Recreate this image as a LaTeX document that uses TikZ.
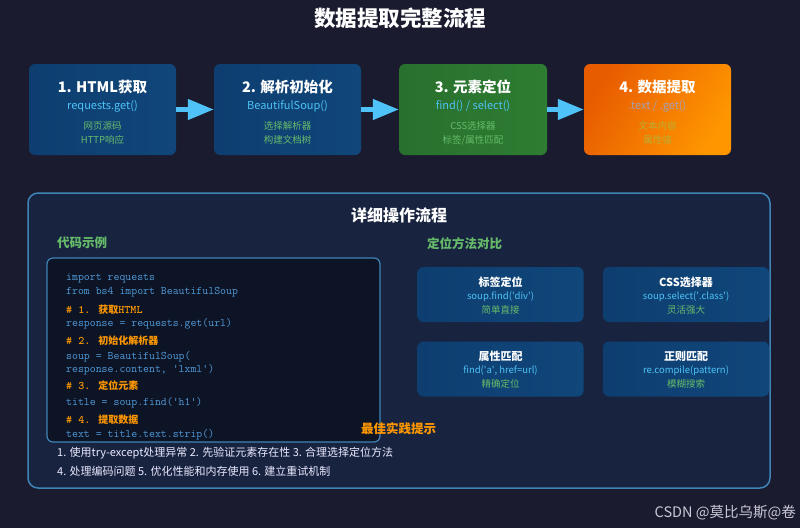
\documentclass[tikz,border=0pt]{standalone}
\usepackage{fontspec}
\setmainfont{Noto Sans CJK SC}
\newfontfamily\cjkfont{Noto Sans CJK SC}
\usetikzlibrary{arrows.meta}
\definecolor{nen}{RGB}{26,27,46}
\definecolor{nenpanel}{RGB}{24,35,64}
\definecolor{vien}{RGB}{62,132,182}
\definecolor{xanhkhung}{RGB}{14,62,112}
\definecolor{xanhkhungB}{RGB}{16,70,122}
\definecolor{lacay}{RGB}{40,112,46}
\definecolor{lacayB}{RGB}{46,124,50}
\definecolor{camA}{RGB}{232,92,0}
\definecolor{camB}{RGB}{255,150,0}
\definecolor{xanhnhat}{RGB}{79,195,247}
\definecolor{xanhla}{RGB}{102,187,106}
\definecolor{nenma}{RGB}{12,20,38}
\definecolor{chuma}{RGB}{82,154,216}
\definecolor{cam}{RGB}{255,152,0}
\definecolor{xam}{RGB}{200,200,214}
\definecolor{timnhat}{RGB}{168,160,178}
\definecolor{vangnhat}{RGB}{186,176,52}
\newcommand{\zh}[1]{{\cjkfont\fontsize{10}{13}\selectfont #1}}
\begin{document}
\begin{tikzpicture}[x=1pt,y=-1pt,
  stepbox/.style={rounded corners=6pt,minimum width=147pt,minimum height=91pt,inner sep=0pt},
  steptitle/.style={text=white,inner sep=0pt,font=\fontsize{14.5}{17}\selectfont\bfseries},
  stepsub/.style={text=xanhnhat,inner sep=0pt,font=\fontsize{11}{13}\selectfont},
  stepnote/.style={text=xanhla,inner sep=0pt,align=center,font=\fontsize{9.5}{14}\selectfont},
  flowarrow/.style={draw=xanhnhat,line width=4.5pt,-{Triangle[length=26pt,width=20pt]}},
  codeline/.style={anchor=west,inner sep=0pt,text=chuma,text height=7pt,text depth=2pt,font=\ttfamily\fontsize{11.5}{13}\selectfont},
  commentline/.style={codeline,text=cam,font=\ttfamily\bfseries\fontsize{11.5}{13}\selectfont},
  methodbox/.style={rounded corners=6pt,minimum width=166pt,minimum height=55pt,inner sep=0pt,left color=xanhkhung,right color=xanhkhungB},
  methodtitle/.style={text=white,inner sep=0pt,font=\fontsize{11}{13}\selectfont\bfseries},
  methodcode/.style={text=xanhnhat,inner sep=0pt,font=\fontsize{9.5}{11}\selectfont},
  methodnote/.style={text=xanhla,inner sep=0pt,font=\fontsize{9.5}{11}\selectfont}]
%Nen
\fill[nen] (0,0) rectangle (800,528);
%Tieu de
\node[text=white,font=\fontsize{21.5}{25}\selectfont\bfseries] (tieude) at (400,18) {数据提取完整流程};
%Khung 1
\node[stepbox,left color=xanhkhung,right color=xanhkhungB] (b1) at (102.5,109.5) {};
\node[steptitle] (b1t) at (102.5,87) {1. HTML获取};
\node[stepsub] (b1s) at (102.5,106) {requests.get()};
\node[stepnote] (b1n) at (102.5,133) {网页源码\\HTTP响应};
%Khung 2
\node[stepbox,left color=xanhkhung,right color=xanhkhungB] (b2) at (287.5,109.5) {};
\node[steptitle] (b2t) at (287.5,87) {2. 解析初始化};
\node[stepsub] (b2s) at (287.5,106) {BeautifulSoup()};
\node[stepnote] (b2n) at (287.5,133) {选择解析器\\构建文档树};
%Khung 3
\node[stepbox,minimum width=148pt,left color=lacay,right color=lacayB] (b3) at (473,109.5) {};
\node[steptitle] (b3t) at (473,87) {3. 元素定位};
\node[stepsub] (b3s) at (473,106) {find() / select()};
\node[stepnote] (b3n) at (473,133) {CSS选择器\\标签/属性匹配};
%Khung 4
\node[stepbox,left color=camA,right color=camB,shading angle=60] (b4) at (657.5,109.5) {};
\node[steptitle] (b4t) at (657.5,87) {4. 数据提取};
\node[stepsub,text=timnhat] (b4s) at (657.5,106) {.text / .get()};
\node[stepnote,text=vangnhat] (b4n) at (657.5,133) {文本内容\\属性值};
%Mui ten 1,2,3
\draw[flowarrow] (b1) -- (b2);
\draw[flowarrow] (b2) -- (b3);
\draw[flowarrow] (b3) -- (b4);
%Khung chi tiet
\node[draw=vien,line width=1.5pt,fill=nenpanel,rounded corners=10pt,minimum width=742pt,minimum height=295pt] (chitiet) at (399,340.5) {};
\node[text=white,font=\fontsize{16}{19}\selectfont\bfseries] (cttieude) at (399,215) {详细操作流程};
\node[anchor=west,text=xanhla,inner sep=0pt,font=\fontsize{12.5}{15}\selectfont\bfseries] (matieude) at (57,243) {代码示例};
\node[anchor=west,text=xanhla,inner sep=0pt,font=\fontsize{12.5}{15}\selectfont\bfseries] (pptieude) at (427,244) {定位方法对比};
%Bang ma
\node[draw=vien,line width=1.2pt,fill=nenma,rounded corners=6pt,minimum width=333pt,minimum height=184pt] (bangma) at (213.5,350) {};
\node[codeline] (c1) at (66,278) {import requests};
\node[codeline] (c2) at (66,292) {from bs4 import BeautifulSoup};
\node[commentline] (c3) at (66,311) {\# 1. \zh{获取}HTML};
\node[codeline] (c4) at (66,324) {response = requests.get(url)};
\node[commentline] (c5) at (66,342) {\# 2. \zh{初始化解析器}};
\node[codeline] (c6) at (66,357) {soup = BeautifulSoup(};
\node[codeline] (c7) at (66,370) {response.content, \textquotesingle lxml\textquotesingle)};
\node[commentline] (c8) at (66,387) {\# 3. \zh{定位元素}};
\node[codeline] (c9) at (66,403) {title = soup.find(\textquotesingle h1\textquotesingle)};
\node[commentline] (c10) at (66,421) {\# 4. \zh{提取数据}};
\node[codeline] (c11) at (66,435) {text = title.text.strip()};
%Phuong phap 1
\node[methodbox] (m1) at (500.5,294.5) {};
\node[methodtitle] (m1t) at (500.5,282) {标签定位};
\node[methodcode] (m1c) at (500.5,297) {soup.find(\textquotesingle div\textquotesingle)};
\node[methodnote] (m1n) at (500.5,310) {简单直接};
%Phuong phap 2
\node[methodbox] (m2) at (686,294.5) {};
\node[methodtitle] (m2t) at (686,282) {CSS选择器};
\node[methodcode] (m2c) at (686,297) {soup.select(\textquotesingle.class\textquotesingle)};
\node[methodnote] (m2n) at (686,310) {灵活强大};
%Phuong phap 3
\node[methodbox] (m3) at (500.5,369) {};
\node[methodtitle] (m3t) at (500.5,356) {属性匹配};
\node[methodcode] (m3c) at (500.5,371) {find(\textquotesingle a\textquotesingle, href=url)};
\node[methodnote] (m3n) at (500.5,384) {精确定位};
%Phuong phap 4
\node[methodbox] (m4) at (686,369) {};
\node[methodtitle] (m4t) at (686,356) {正则匹配};
\node[methodcode] (m4c) at (686,371) {re.compile(pattern)};
\node[methodnote] (m4n) at (686,384) {模糊搜索};
%Meo
\node[text=cam,font=\fontsize{12.5}{15}\selectfont\bfseries] (meo) at (398.5,429) {最佳实践提示};
\node[anchor=west,inner sep=0pt,text=white!92!blue,font=\fontsize{11}{13}\selectfont] (meo1) at (57,453) {1. 使用try-except处理异常 2. 先验证元素存在性 3. 合理选择定位方法};
\node[anchor=west,inner sep=0pt,text=white!92!blue,font=\fontsize{11}{13}\selectfont] (meo2) at (57,471) {4. 处理编码问题 5. 优化性能和内存使用 6. 建立重试机制};
%Chu ky
\node[anchor=east,inner sep=0pt,text=xam,font=\fontsize{14.5}{17}\selectfont] (csdn) at (796,513) {CSDN @莫比乌斯@卷};
\end{tikzpicture}
\end{document}
